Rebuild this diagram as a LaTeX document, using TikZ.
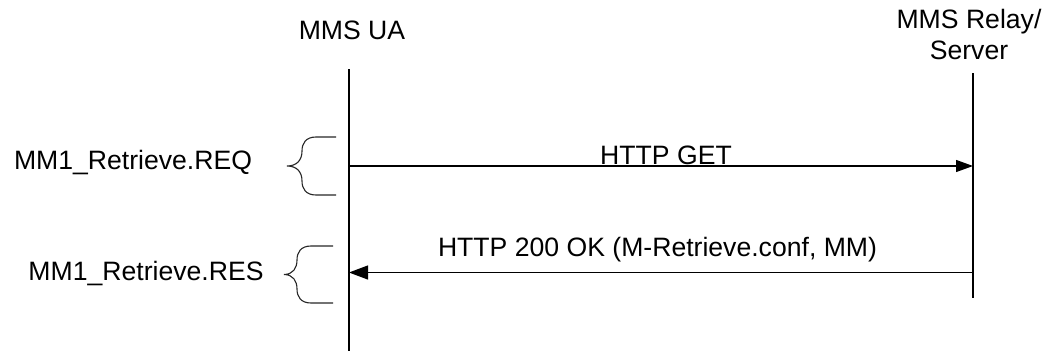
\documentclass[tikz,border=0pt]{standalone}
\usepackage{fontspec}
\setmainfont{Liberation Sans}
\usetikzlibrary{arrows.meta}
\begin{document}
\begin{tikzpicture}[x=1pt,y=-1pt,
  every node/.style={font=\fontsize{26.6}{31}\selectfont, inner sep=0pt},
  lifeline/.style={line width=1.2pt},
  msg/.style={line width=1.2pt},
  brace/.style={line width=1.1pt, black!85},
  label/.style={anchor=base}]
  \useasboundingbox (0,0) rectangle (1050,351);

  % participants
  \node[label] (ua) at (352,39) {MMS UA};
  \node[label, align=center] (relay) at (969,59.5) {MMS Relay/\\Server};

  % lifelines
  \coordinate (uaTop) at (349,69);
  \coordinate (uaBot) at (349,351);
  \coordinate (srvTop) at (973,73);
  \coordinate (srvBot) at (973,298);
  \draw[lifeline] (uaTop) -- (uaBot);
  \draw[lifeline] (srvTop) -- (srvBot);

  % request
  \coordinate (reqA) at (349,166);
  \coordinate (reqB) at (973,166);
  \draw[msg, -{Triangle[length=17pt,width=12pt]}] (reqA) -- (reqB);
  \node[label] (get) at (666,164.5) {HTTP GET};

  % response
  \coordinate (resA) at (973,272.5);
  \coordinate (resB) at (349,272.5);
  \draw[msg, -{Triangle[length=19pt,width=14pt]}] (resA) -- (resB);
  \node[label] (ok) at (657.5,256) {HTTP 200 OK (M-Retrieve.conf, MM)};

  % MM1 primitives with braces
  \node[label] (req) at (133,169) {MM1\_Retrieve.REQ};
  \draw[brace] (336,137) -- (316,137)
     .. controls (306,137) and (302,143) .. (302,151)
     .. controls (302,160) and (297,166) .. (287,166)
     .. controls (297,166) and (302,172) .. (302,181)
     .. controls (302,189) and (306,195) .. (316,195) -- (336,195);

  \node[label] (res) at (146,280) {MM1\_Retrieve.RES};
  \draw[brace] (333,246) -- (311,246)
     .. controls (301,246) and (297,252) .. (297,260)
     .. controls (297,268) and (293,274.5) .. (284,274.5)
     .. controls (293,274.5) and (297,281) .. (297,289)
     .. controls (297,297) and (301,303) .. (311,303) -- (333,303);
\end{tikzpicture}
\end{document}
